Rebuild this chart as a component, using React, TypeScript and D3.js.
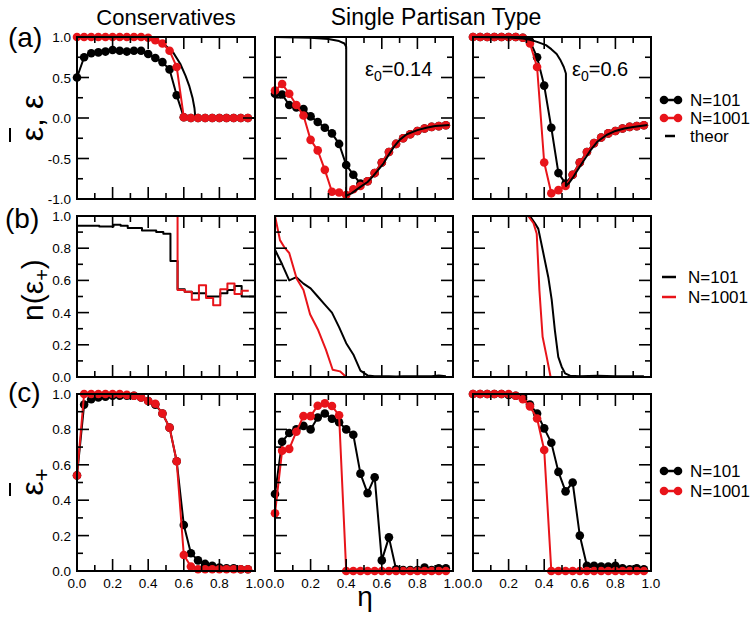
import React from 'react';
import * as d3 from 'd3';

// ---------- data ----------
const ETA = [0, 0.04, 0.08, 0.12, 0.16, 0.2, 0.24, 0.28, 0.32, 0.36, 0.4, 0.44, 0.48, 0.52, 0.56, 0.6, 0.64, 0.68, 0.72, 0.76, 0.8, 0.84, 0.88, 0.92, 0.96];

// (a) mean opinion
const A_CONS_N101 = [0.5, 0.75, 0.8, 0.81, 0.82, 0.84, 0.83, 0.82, 0.83, 0.83, 0.79, 0.74, 0.69, 0.6, 0.28, 0.01, 0, 0, 0, 0, 0, 0, 0, 0, 0];
const A_CONS_N1001 = [1, 1, 1, 1, 1, 1, 1, 1, 1, 1, 0.99, 0.96, 0.92, 0.83, 0.63, 0.01, 0, 0, 0, 0, 0, 0, 0, 0, 0];
const A_CONS_TH_X = [0, 0.2, 0.3, 0.4, 0.45, 0.5, 0.54, 0.58, 0.61, 0.63, 0.65, 0.66, 0.665, 1.0];
const A_CONS_TH_Y = [1, 1, 0.995, 0.98, 0.95, 0.89, 0.81, 0.67, 0.52, 0.4, 0.24, 0.12, 0, 0];

const A_P14_N101 = [0.3, 0.29, 0.16, 0.13, 0.11, 0.02, -0.05, -0.12, -0.19, -0.32, -0.58, -0.7, -0.81, -0.78, -0.68, -0.55, -0.42, -0.32, -0.25, -0.2, -0.16, -0.13, -0.11, -0.1, -0.09];
const A_P14_N1001 = [0.34, 0.42, 0.3, 0.16, 0.03, -0.27, -0.4, -0.64, -0.91, -0.92, -0.95, -0.88, -0.84, -0.78, -0.68, -0.55, -0.42, -0.32, -0.25, -0.2, -0.16, -0.13, -0.11, -0.1, -0.09];
const A_P14_TH_X = [0, 0.2, 0.3, 0.36, 0.39, 0.4, 0.4, 0.43, 0.48, 0.52, 0.55, 0.58, 0.61, 0.64, 0.67, 0.7, 0.74, 0.8, 0.85, 0.9, 0.98];
const A_P14_TH_Y = [1, 0.99, 0.975, 0.95, 0.92, 0.88, -0.96, -0.93, -0.85, -0.79, -0.72, -0.64, -0.56, -0.45, -0.35, -0.27, -0.2, -0.15, -0.12, -0.1, -0.086];

const A_P6_N101 = [1, 1, 1, 1, 1, 1, 1, 0.99, 0.95, 0.75, 0.4, -0.12, -0.68, -0.81, -0.7, -0.55, -0.42, -0.31, -0.24, -0.19, -0.16, -0.13, -0.11, -0.1, -0.09];
const A_P6_N1001 = [1, 1, 1, 1, 1, 1, 1, 0.99, 0.92, 0.63, -0.55, -0.93, -0.89, -0.84, -0.7, -0.55, -0.42, -0.31, -0.24, -0.19, -0.16, -0.13, -0.11, -0.1, -0.09];
const A_P6_TH_X = [0, 0.2, 0.28, 0.32, 0.36, 0.41, 0.44, 0.47, 0.49, 0.51, 0.522, 0.522, 0.54, 0.56, 0.58, 0.6, 0.63, 0.66, 0.7, 0.75, 0.8, 0.85, 0.9, 0.98];
const A_P6_TH_Y = [1, 0.995, 0.98, 0.965, 0.94, 0.9, 0.85, 0.79, 0.72, 0.63, 0.55, -0.84, -0.8, -0.74, -0.67, -0.6, -0.5, -0.4, -0.29, -0.21, -0.16, -0.13, -0.11, -0.085];

// (b) fraction of positive
const B_CONS_EDGES_N101 = [0, 0.045, 0.085, 0.125, 0.165, 0.205, 0.245, 0.285, 0.325, 0.365, 0.405, 0.445, 0.485, 0.525, 0.565, 0.605, 0.645, 0.685, 0.725, 0.765, 0.805, 0.845, 0.885, 0.925, 0.965, 1.0];
const B_CONS_N101 = [0.94, 0.94, 0.94, 0.935, 0.935, 0.945, 0.94, 0.925, 0.925, 0.91, 0.91, 0.9, 0.89, 0.72, 0.545, 0.53, 0.52, 0.52, 0.5, 0.5, 0.52, 0.54, 0.565, 0.5, 0.5, 0.5];
const B_CONS_EDGES_N1001 = [0, 0.045, 0.085, 0.125, 0.165, 0.205, 0.245, 0.285, 0.325, 0.365, 0.405, 0.445, 0.485, 0.525, 0.565, 0.605, 0.645, 0.685, 0.725, 0.765, 0.805, 0.845, 0.885, 0.925, 0.965];
const B_CONS_N1001 = [1, 1, 1, 1, 1, 1, 1, 1, 1, 1, 1, 1, 1, 1, 0.54, 0.53, 0.48, 0.57, 0.49, 0.445, 0.545, 0.58, 0.515, 0.535, 0.535];

const B_P14_N101 = [0.79, 0.7, 0.6, 0.62, 0.58, 0.55, 0.5, 0.45, 0.4, 0.31, 0.21, 0.14, 0.04, 0.01, 0.005, 0.004, 0.004, 0.003, 0.004, 0.004, 0.004, 0.005, 0.004, 0.01, 0.004];
const B_P14_N1001_X = [0, 0.028, 0.056, 0.08, 0.122, 0.16, 0.197, 0.243, 0.286, 0.324, 0.365, 0.4, 0.96];
const B_P14_N1001 = [1, 0.85, 0.8, 0.77, 0.61, 0.54, 0.39, 0.29, 0.17, 0.045, 0.035, 0, 0];

const B_P6_N101_X = [0, 0.2, 0.32, 0.348, 0.367, 0.395, 0.423, 0.442, 0.46, 0.479, 0.498, 0.517, 0.545, 0.6, 0.7, 0.8, 0.9, 0.96];
const B_P6_N101 = [1, 1, 1, 0.955, 0.92, 0.77, 0.62, 0.48, 0.29, 0.125, 0.064, 0.023, 0.008, 0.005, 0.008, 0.004, 0.005, 0.004];
const B_P6_N1001_X = [0, 0.2, 0.31, 0.34, 0.358, 0.373, 0.391, 0.414, 0.436, 0.96];
const B_P6_N1001 = [1, 1, 1, 0.955, 0.89, 0.54, 0.25, 0.125, 0, 0];

// (c) mean positive opinion
const C_CONS_N101 = [0.54, 0.94, 0.97, 0.98, 0.985, 0.99, 0.99, 0.99, 0.99, 0.98, 0.96, 0.94, 0.89, 0.81, 0.62, 0.26, 0.1, 0.06, 0.04, 0.03, 0.02, 0.015, 0.015, 0.01, 0.01];
const C_CONS_N1001 = [0.54, 1, 1, 1, 1, 1, 1, 0.995, 0.99, 0.98, 0.96, 0.945, 0.89, 0.81, 0.62, 0.09, 0.025, 0.01, 0.01, 0.01, 0.01, 0.01, 0.01, 0.01, 0.01];
const C_P14_N101 = [0.435, 0.73, 0.78, 0.8, 0.82, 0.8, 0.867, 0.89, 0.86, 0.84, 0.8, 0.77, 0.55, 0.44, 0.53, 0.06, 0.19, 0.01, 0.005, 0.005, 0.005, 0.02, 0.005, 0.015, 0.015];
const C_P14_N1001 = [0.326, 0.68, 0.69, 0.787, 0.875, 0.875, 0.934, 0.947, 0.932, 0.88, 0, 0, 0, 0, 0, 0, 0, 0, 0, 0, 0, 0, 0, 0, 0];
const C_P6_N101 = [1, 1, 1, 1, 1, 0.995, 0.99, 0.98, 0.94, 0.89, 0.806, 0.725, 0.56, 0.45, 0.5, 0.2, 0.03, 0.03, 0.025, 0.025, 0.03, 0.015, 0.01, 0.015, 0.01];
const C_P6_N1001 = [1, 1, 1, 1, 1, 1, 0.99, 0.97, 0.93, 0.862, 0.684, 0, 0, 0, 0, 0, 0, 0, 0, 0, 0, 0, 0, 0, 0];

const X_TICK_LABELS = ['0.0', '0.2', '0.4', '0.6', '0.8', '1.0'];
const X_MAJOR = [0, 0.2, 0.4, 0.6, 0.8, 1.0];
const X_MINOR = [0.1, 0.3, 0.5, 0.7, 0.9];
const YA_MAJOR = [-1, -0.5, 0, 0.5, 1];
const YA_MINOR = [-0.75, -0.25, 0.25, 0.75];
const YA_LABELS = ['-1.0', '-0.5', '0.0', '0.5', '1.0'];
const YB_MAJOR = [0, 0.2, 0.4, 0.6, 0.8, 1.0];
const YB_MINOR = [0.1, 0.3, 0.5, 0.7, 0.9];
const YB_LABELS = ['0.0', '0.2', '0.4', '0.6', '0.8', '1.0'];

// ---------- layout ----------
const FONT = 'Liberation Sans, Arial, Helvetica, sans-serif';
const COLS = [77, 275, 473];
const PW = 178;
const ROWS = [
  { y0: 37, h: 162 },
  { y0: 216, h: 161 },
  { y0: 394, h: 177 },
];
const RED = '#e8141a';
const MAJ = 12;
const MIN = 6;

type Series = { xs: number[]; ys: number[]; color: string; dots?: boolean; step?: boolean };

function Panel(props: {
  col: number;
  row: number;
  yDomain: [number, number];
  yMajor: number[];
  yMinor: number[];
  yLabels?: string[];
  xLabels?: boolean;
  series: Series[];
}) {
  const { col, row, yDomain, yMajor, yMinor, yLabels, xLabels, series } = props;
  const x0 = COLS[col];
  const { y0, h } = ROWS[row];
  const x = d3.scaleLinear().domain([0, 1]).range([x0, x0 + PW]);
  const y = d3.scaleLinear().domain(yDomain).range([y0 + h, y0]);
  const els: React.ReactNode[] = [];
  const tick = (key: string, x1: number, y1: number, x2: number, y2: number) => (
    <line key={key} x1={x1} y1={y1} x2={x2} y2={y2} stroke="#000" strokeWidth={1.6} />
  );
  X_MAJOR.forEach((v, i) => {
    els.push(tick('xb' + i, x(v), y0 + h, x(v), y0 + h - MAJ));
    els.push(tick('xt' + i, x(v), y0, x(v), y0 + MAJ));
  });
  X_MINOR.forEach((v, i) => {
    els.push(tick('xbm' + i, x(v), y0 + h, x(v), y0 + h - MIN));
    els.push(tick('xtm' + i, x(v), y0, x(v), y0 + MIN));
  });
  yMajor.forEach((v, i) => {
    els.push(tick('yl' + i, x0, y(v), x0 + MAJ, y(v)));
    els.push(tick('yr' + i, x0 + PW, y(v), x0 + PW - MAJ, y(v)));
  });
  yMinor.forEach((v, i) => {
    els.push(tick('ylm' + i, x0, y(v), x0 + MIN, y(v)));
    els.push(tick('yrm' + i, x0 + PW, y(v), x0 + PW - MIN, y(v)));
  });
  if (yLabels) {
    yMajor.forEach((v, i) => {
      els.push(
        <text key={'yt' + i} x={x0 - 6} y={y(v) + 5} textAnchor="end" fontSize={13.5} fontFamily={FONT}>
          {yLabels[i]}
        </text>
      );
    });
  }
  if (xLabels) {
    X_MAJOR.forEach((v, i) => {
      els.push(
        <text key={'xl' + i} x={x(v)} y={588} textAnchor="middle" fontSize={13.5} fontFamily={FONT}>
          {X_TICK_LABELS[i]}
        </text>
      );
    });
  }
  const lines: React.ReactNode[] = [];
  series.forEach((s, si) => {
    const pts = s.xs.map((xv, i) => [xv, s.ys[i]] as [number, number]);
    const gen = d3
      .line<[number, number]>()
      .x((d) => x(d[0]))
      .y((d) => y(d[1]))
      .curve(s.step ? d3.curveStepAfter : d3.curveLinear);
    lines.push(<path key={'p' + si} d={gen(pts) || ''} fill="none" stroke={s.color} strokeWidth={2} strokeLinejoin="round" />);
    if (s.dots) {
      pts.forEach((p, i) => {
        lines.push(<circle key={'c' + si + '_' + i} cx={x(p[0])} cy={y(p[1])} r={4.3} fill={s.color} />);
      });
    }
  });
  return (
    <g>
      {lines}
      <rect x={x0} y={y0} width={PW} height={h} fill="none" stroke="#000" strokeWidth={2} />
      {els}
    </g>
  );
}

function Legend(props: { x: number; y: number; gap: number; items: { label: string; color: string; dots: boolean; short?: boolean }[] }) {
  const { x, y, gap, items } = props;
  return (
    <g>
      {items.map((it, i) => {
        const yy = y + i * gap;
        return (
          <g key={i}>
            {it.short ? (
              <line x1={x + 1} x2={x + 11} y1={yy} y2={yy} stroke={it.color} strokeWidth={2.5} />
            ) : (
              <line x1={x} x2={x + 14} y1={yy} y2={yy} stroke={it.color} strokeWidth={2.5} />
            )}
            {it.dots && <circle cx={x} cy={yy} r={4.3} fill={it.color} />}
            {it.dots && <circle cx={x + 14} cy={yy} r={4.3} fill={it.color} />}
            <text x={x + 26} y={yy + 6} fontSize={17} fontFamily={FONT}>
              {it.label}
            </text>
          </g>
        );
      })}
    </g>
  );
}

export default function App() {
  const aY: [number, number] = [-1, 1];
  const bY: [number, number] = [0, 1];
  return (
    <svg width={755} height={622} style={{ position: 'absolute', left: 0, top: 0, background: '#fff' }} fontFamily={FONT}>
      <rect x={0} y={0} width={755} height={622} fill="#fff" />
      {/* titles */}
      <text x={166} y={25} textAnchor="middle" fontSize={22} fontFamily={FONT}>Conservatives</text>
      <text x={436} y={25} textAnchor="middle" fontSize={23} fontFamily={FONT}>Single Partisan Type</text>
      {/* row labels */}
      <text x={8} y={47} fontSize={28} fontFamily={FONT}>(a)</text>
      <text x={5} y={228} fontSize={28} fontFamily={FONT}>(b)</text>
      <text x={8} y={402} fontSize={28} fontFamily={FONT}>(c)</text>
      {/* y axis labels */}
      <g transform="translate(43,118) rotate(-90)">
        <text x={0} y={0} textAnchor="middle" fontSize={32} fontFamily={FONT}>ε, ε</text>
        <line x1={-24} x2={-10} y1={-33} y2={-33} stroke="#000" strokeWidth={2} />
      </g>
      <g transform="translate(43,290) rotate(-90)">
        <text x={0} y={0} textAnchor="middle" fontSize={30} fontFamily={FONT}>
          n(ε<tspan fontSize={20} dy={6}>+</tspan><tspan dy={-6}>)</tspan>
        </text>
      </g>
      <g transform="translate(43,482) rotate(-90)">
        <text x={0} y={0} textAnchor="middle" fontSize={32} fontFamily={FONT}>
          ε<tspan fontSize={22} dy={6}>+</tspan>
        </text>
        <line x1={-14} x2={-1} y1={-33} y2={-33} stroke="#000" strokeWidth={2} />
      </g>
      {/* x axis label */}
      <text x={365} y={606} textAnchor="middle" fontSize={28} fontFamily={FONT}>η</text>

      {/* row a */}
      <Panel col={0} row={0} yDomain={aY} yMajor={YA_MAJOR} yMinor={YA_MINOR} yLabels={YA_LABELS}
        series={[
          { xs: A_CONS_TH_X, ys: A_CONS_TH_Y, color: '#000' },
          { xs: ETA, ys: A_CONS_N101, color: '#000', dots: true },
          { xs: ETA, ys: A_CONS_N1001, color: RED, dots: true },
        ]} />
      <Panel col={1} row={0} yDomain={aY} yMajor={YA_MAJOR} yMinor={YA_MINOR}
        series={[
          { xs: ETA, ys: A_P14_N101, color: '#000', dots: true },
          { xs: ETA, ys: A_P14_N1001, color: RED, dots: true },
          { xs: A_P14_TH_X, ys: A_P14_TH_Y, color: '#000' },
        ]} />
      <Panel col={2} row={0} yDomain={aY} yMajor={YA_MAJOR} yMinor={YA_MINOR}
        series={[
          { xs: ETA, ys: A_P6_N101, color: '#000', dots: true },
          { xs: ETA, ys: A_P6_N1001, color: RED, dots: true },
          { xs: A_P6_TH_X, ys: A_P6_TH_Y, color: '#000' },
        ]} />
      <text x={365} y={76} fontSize={20} fontFamily={FONT}>
        ε<tspan fontSize={14} dy={5}>0</tspan><tspan dy={-5}>=0.14</tspan>
      </text>
      <text x={572} y={76} fontSize={20} fontFamily={FONT}>
        ε<tspan fontSize={14} dy={5}>0</tspan><tspan dy={-5}>=0.6</tspan>
      </text>
      <Legend x={664} y={100} gap={18} items={[
        { label: 'N=101', color: '#000', dots: true },
        { label: 'N=1001', color: RED, dots: true },
        { label: 'theor', color: '#000', dots: false, short: true },
      ]} />

      {/* row b */}
      <Panel col={0} row={1} yDomain={bY} yMajor={YB_MAJOR} yMinor={YB_MINOR} yLabels={YB_LABELS}
        series={[
          { xs: B_CONS_EDGES_N101, ys: B_CONS_N101, color: '#000', step: true },
          { xs: B_CONS_EDGES_N1001, ys: B_CONS_N1001, color: RED, step: true },
        ]} />
      <Panel col={1} row={1} yDomain={bY} yMajor={YB_MAJOR} yMinor={YB_MINOR}
        series={[
          { xs: ETA, ys: B_P14_N101, color: '#000' },
          { xs: B_P14_N1001_X, ys: B_P14_N1001, color: RED },
        ]} />
      <Panel col={2} row={1} yDomain={bY} yMajor={YB_MAJOR} yMinor={YB_MINOR}
        series={[
          { xs: B_P6_N101_X, ys: B_P6_N101, color: '#000' },
          { xs: B_P6_N1001_X, ys: B_P6_N1001, color: RED },
        ]} />
      <Legend x={662} y={277} gap={20} items={[
        { label: 'N=101', color: '#000', dots: false },
        { label: 'N=1001', color: RED, dots: false },
      ]} />

      {/* row c */}
      <Panel col={0} row={2} yDomain={bY} yMajor={YB_MAJOR} yMinor={YB_MINOR} yLabels={YB_LABELS} xLabels
        series={[
          { xs: ETA, ys: C_CONS_N101, color: '#000', dots: true },
          { xs: ETA, ys: C_CONS_N1001, color: RED, dots: true },
        ]} />
      <Panel col={1} row={2} yDomain={bY} yMajor={YB_MAJOR} yMinor={YB_MINOR} xLabels
        series={[
          { xs: ETA, ys: C_P14_N101, color: '#000', dots: true },
          { xs: ETA, ys: C_P14_N1001, color: RED, dots: true },
        ]} />
      <Panel col={2} row={2} yDomain={bY} yMajor={YB_MAJOR} yMinor={YB_MINOR} xLabels
        series={[
          { xs: ETA, ys: C_P6_N101, color: '#000', dots: true },
          { xs: ETA, ys: C_P6_N1001, color: RED, dots: true },
        ]} />
      <Legend x={664} y={471} gap={20} items={[
        { label: 'N=101', color: '#000', dots: true },
        { label: 'N=1001', color: RED, dots: true },
      ]} />
    </svg>
  );
}
